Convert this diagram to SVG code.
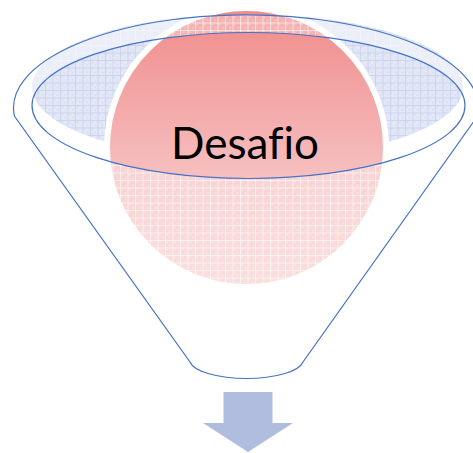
<svg xmlns="http://www.w3.org/2000/svg" width="473" height="453" viewBox="0 0 473 453">
  <defs>
    <style>
      .line { fill: none; stroke: #4472C4; stroke-width: 1.2; }
      .label { font-family: Lato, "Open Sans", "Liberation Sans", sans-serif; font-size: 44px; fill: #000000; font-variant-ligatures: none; font-feature-settings: "liga" 0, "clig" 0; }
    </style>
    <pattern id="bluePat" width="7.5" height="7.5" patternUnits="userSpaceOnUse">
      <rect width="7.5" height="7.5" fill="#E2E7F6"/>
      <rect x="1.5" y="1.5" width="1" height="1" fill="#D0D8F0"/>
      <rect x="4.5" y="4.5" width="1" height="1" fill="#D0D8F0"/>
      <rect x="4.5" y="1.5" width="1" height="1" fill="#F0F3FB"/>
      <rect x="1.5" y="4.5" width="1" height="1" fill="#F0F3FB"/>
      <rect x="0" y="0" width="7.5" height="1" fill="#CDD5EF"/>
      <rect x="0" y="0" width="1" height="7.5" fill="#CDD5EF"/>
    </pattern>
    <pattern id="whitePat" width="7.5" height="7.5" patternUnits="userSpaceOnUse">
      <rect width="7.5" height="7.5" fill="#FFFFFF" fill-opacity="0.3"/>
      <rect x="1.5" y="1.5" width="1.5" height="1.5" fill="#FFFFFF" fill-opacity="0.35"/>
      <rect x="4.5" y="4.5" width="1.5" height="1.5" fill="#FFFFFF" fill-opacity="0.35"/>
      <rect x="0" y="0" width="7.5" height="1" fill="#FFFFFF" fill-opacity="0.6"/>
      <rect x="0" y="0" width="1" height="7.5" fill="#FFFFFF" fill-opacity="0.6"/>
    </pattern>
    <linearGradient id="pinkGrad" x1="0" y1="0" x2="0" y2="1">
      <stop offset="0" stop-color="#F08A8A"/>
      <stop offset="0.6" stop-color="#F6BFBF"/>
      <stop offset="1" stop-color="#F8CFCF"/>
    </linearGradient>
  </defs>

  <g id="funnel-back">
    <ellipse cx="247.5" cy="87" rx="215.5" ry="73" fill="url(#bluePat)"/>
  </g>

  <g id="desafio">
    <circle cx="246.5" cy="147.5" r="139.5" fill="url(#pinkGrad)" stroke="#FFFFFF" stroke-width="6"/>
  </g>

  <g id="funnel">
    <path d="M14.4 116 A232.5 93 0 1 1 477.6 116 L303 362 A57 19 0 0 1 190 362 Z M32 105.5 A216.5 73 0 1 0 465 105.5 A216.5 73 0 1 0 32 105.5 Z" fill="url(#whitePat)" fill-rule="evenodd"/>
    <path class="line" d="M14.4 116 A232.5 93 0 1 1 477.6 116 L303 362 A57 19 0 0 1 190 362 Z"/>
    <ellipse class="line" cx="248.5" cy="105.5" rx="216.5" ry="73"/>
  </g>

  <g id="desafio-label">
    <text class="label" x="245" y="159" text-anchor="middle">Desafio</text>
  </g>

  <g id="connectors">
    <path id="arrow" d="M223.5 392 H272.5 V423 H293 L248 452 L203 423 H223.5 Z" fill="#B0BDDF"/>
  </g>
</svg>
